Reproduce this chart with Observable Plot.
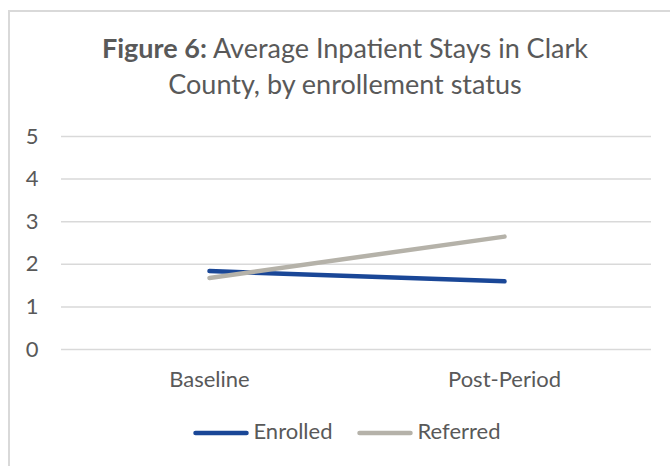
<!DOCTYPE html>
<html><head><meta charset="utf-8">
<script src="https://cdn.jsdelivr.net/npm/d3@7"></script>
<script src="https://cdn.jsdelivr.net/npm/@observablehq/plot@0.6"></script>
<style>
body{margin:0;background:#fff;font-family:Lato,"Open Sans",sans-serif;color:#595959;overflow:hidden;}
#frame{position:absolute;left:8px;top:10px;width:700px;height:500px;border-left:2px solid #d9d9d9;border-top:2px solid #d9d9d9;}
#title{position:absolute;left:10px;top:30px;width:670px;text-align:center;font-size:27px;line-height:36px;color:#595959;white-space:nowrap;}
#chart{position:absolute;left:0;top:115px;}
#legend{position:absolute;left:12px;top:418px;width:670px;display:flex;justify-content:center;font-size:22px;line-height:26px;color:#595959;}
.item{display:flex;align-items:center;}
.item svg{margin-top:3px;margin-right:4px;}
.item + .item{margin-left:25px;}
</style></head>
<body>
<div id="frame"></div>
<div id="title"><b>Figure 6:</b> Average Inpatient Stays in Clark<br>County, by enrollement status</div>
<div id="chart"></div>
<div id="legend"></div>
<script>
const categories = ["Baseline", "Post-Period"];
const enrolled = [1.84, 1.60];
const referred = [1.68, 2.65];
const seriesNames = ["Enrolled", "Referred"];
const seriesColors = ["#1a4797", "#b5b2a9"];
const yTicks = [0, 1, 2, 3, 4, 5];

const data = [];
categories.forEach((c, i) => {
  data.push({cat: c, series: "Enrolled", value: enrolled[i]});
  data.push({cat: c, series: "Referred", value: referred[i]});
});

const plot = Plot.plot({
  width: 670, height: 285,
  marginLeft: 61, marginRight: 19, marginTop: 21, marginBottom: 51,
  style: {fontFamily: "Lato, 'Open Sans', sans-serif", fontSize: "22px", color: "#595959", background: "transparent", overflow: "visible"},
  x: {type: "point", domain: categories, padding: 0.5, label: null},
  y: {domain: [0, 5], label: null},
  color: {domain: seriesNames, range: seriesColors},
  marks: [
    Plot.ruleY(yTicks, {stroke: "#d9d9d9", strokeWidth: 1.5}),
    Plot.axisY(yTicks, {tickSize: 0, tickPadding: 23, label: null, fill: "#595959"}),
    Plot.axisX({tickSize: 0, tickPadding: 22, label: null, fill: "#595959"}),
    Plot.line(data, {x: "cat", y: "value", z: "series", stroke: "series", strokeWidth: 4.5, strokeLinecap: "round", strokeLinejoin: "round"})
  ]
});
document.getElementById("chart").appendChild(plot);

const legend = document.getElementById("legend");
seriesNames.forEach((n, i) => {
  const it = document.createElement("div");
  it.className = "item";
  it.innerHTML = `<svg width="56" height="8"><line x1="2.5" y1="4" x2="53.5" y2="4" stroke="${seriesColors[i]}" stroke-width="4.5" stroke-linecap="round"/></svg><span>${n}</span>`;
  legend.appendChild(it);
});
</script>
</body></html>
